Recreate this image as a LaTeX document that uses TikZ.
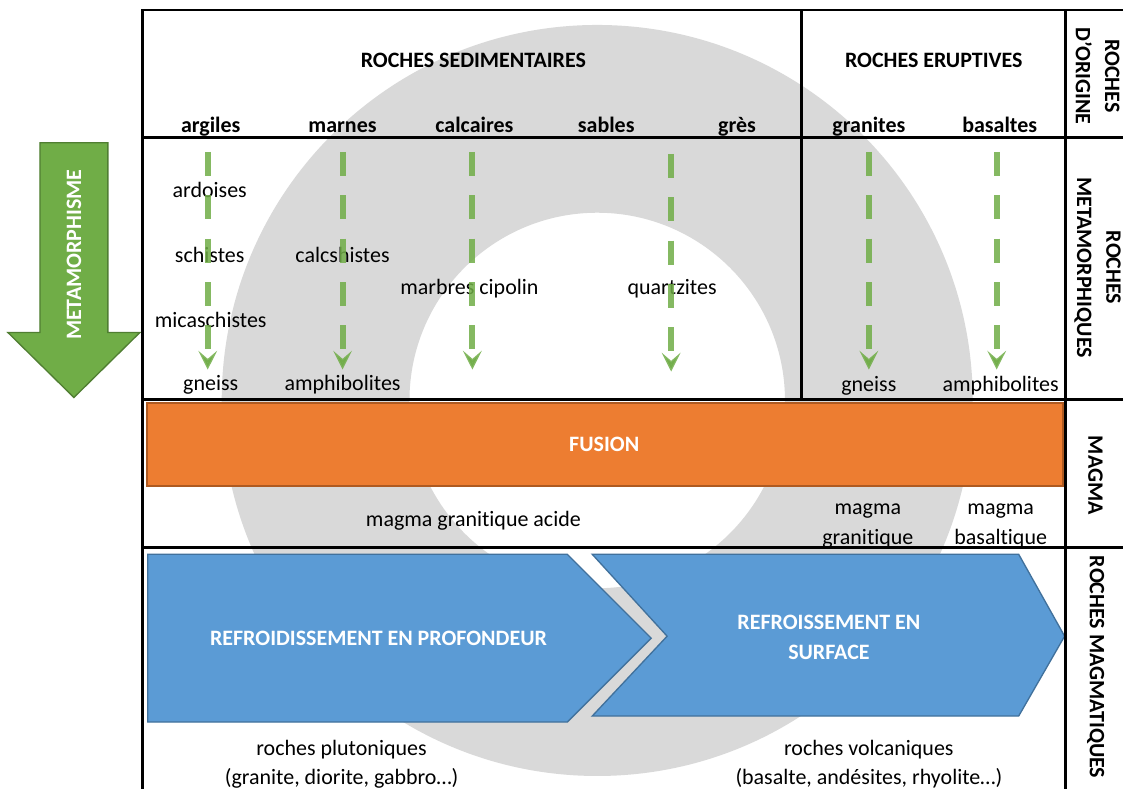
\documentclass[tikz,border=0pt]{standalone}
\usepackage{fontspec}
\setmainfont{Carlito}[Ligatures=NoCommon]
\usepackage{xcolor}
\usetikzlibrary{arrows.meta,positioning,calc}
\definecolor{ringgray}{HTML}{D9D9D9}
\definecolor{metagreen}{HTML}{70AD47}
\definecolor{metaedge}{HTML}{507E32}
\definecolor{fusionorange}{HTML}{ED7D31}
\definecolor{fusionedge}{HTML}{AE5A21}
\definecolor{coolblue}{HTML}{5B9BD5}
\definecolor{cooledge}{HTML}{41719C}
\newcommand{\txt}{\fontsize{16.5}{22}\selectfont}

\begin{document}
\begin{tikzpicture}[x=0.75pt,y=-0.75pt,
    every node/.style={font=\txt,inner sep=0pt,anchor=base,align=center},
    head/.style={font=\txt\bfseries},
    white head/.style={head,text=white},
    side/.style={head,rotate=-90,anchor=center},
    gridline/.style={line width=2.2pt},
    metaarrow/.style={draw=metagreen,line width=4.5pt,opacity=.85,dash pattern=on 18pt off 14.6pt,
      -{Stealth[length=14pt,width=14pt,inset=6pt,fill=metagreen]}}]
    \fill[white] (0,0) rectangle (1124,790);
    \fill[ringgray,even odd rule] (598,401) circle[radius=376] (598,401) circle[radius=188];
    \draw[fill=fusionorange,draw=fusionedge,line width=1.5pt] (147,404) rectangle (1064,487);
    \draw[fill=coolblue,draw=cooledge,line width=1pt] (148,555) -- (568,555) -- (652,639) -- (568,723) -- (148,723) -- cycle;
    \draw[fill=coolblue,draw=cooledge,line width=1pt] (593,555) -- (1020,555) -- (1066,637) -- (1020,717) -- (593,717) -- (668,637) -- cycle;
    \draw[fill=metagreen,draw=metaedge,line width=1pt] (40,143) -- (108,143) -- (108,333) -- (140,333) -- (74,398) -- (8,333) -- (40,333) -- cycle;
    \draw[gridline] (143,790) -- (143,10) -- (1124,10);
    \draw[gridline] (143,138) -- (1124,138);
    \draw[gridline] (143,400) -- (1124,400);
    \draw[gridline] (143,548) -- (1124,548);
    \draw[gridline] (803,10) -- (803,400);
    \draw[gridline] (1067,10) -- (1067,790);

    \node[head] (sedi) at (474,68) {ROCHES SEDIMENTAIRES};
    \node[head] (erup) at (935,68) {ROCHES ERUPTIVES};
    \foreach \nm/\x/\lbl in {argiles/211/argiles,marnes/343/marnes,calcaires/475/calcaires,sables/607/sables,gres/738/grès,granites/870/granites,basaltes/1001/basaltes}
      \node[head] (\nm) at (\x,133) {\lbl};

    \node (ardoises) at (210,198) {ardoises};
    \node (schistes) at (210,263) {schistes};
    \node (micasch) at (211,328) {micaschistes};
    \node (gneissA) at (211,391) {gneiss};
    \node (calcsch) at (343,263) {calcshistes};
    \node (amphiA) at (343,391) {amphibolites};
    \node (marbres) at (470,295) {marbres cipolin};
    \node (quartz) at (673,295) {quartzites};
    \node (gneissB) at (870,392) {gneiss};
    \node (amphiB) at (1002,392) {amphibolites};

    \node[white head] (fusion) at (605,452) {FUSION};
    \node (acide) at (474,527) {magma granitique acide};
    \node (mgran) at (869,545) {magma\\granitique};
    \node (mbas) at (1002,545) {magma\\basaltique};

    \node[white head] (profond) at (379,646) {REFROIDISSEMENT EN PROFONDEUR};
    \node[white head] (surface) at (830,660) {REFROISSEMENT EN\\SURFACE};
    \node (pluto) at (342,786) {roches plutoniques\\(granite, diorite, gabbro…)};
    \node (volca) at (870,786) {roches volcaniques\\(basalte, andésites, rhyolite…)};

    \node[white head,rotate=90,anchor=center] (meta) at (74,255) {METAMORPHISME};
    \node[side] (origine) at (1099,76) {ROCHES\\D'ORIGINE};
    \node[side] (metamor) at (1099,268) {ROCHES\\METAMORPHIQUES};
    \node[side] (magma) at (1097,476) {MAGMA};
    \node[side] (magmat) at (1097,668) {ROCHES MAGMATIQUES};

    \foreach \nm/\x/\ya/\yb in {a/208/152/370,b/343/152/370,c/473/152/370,d/672/154/372,e/870/152/370,f/998/152/370}{
      \coordinate (top\nm) at (\x,\ya);
      \coordinate (bot\nm) at (\x,\yb);
      \draw[metaarrow] (top\nm) -- (bot\nm);
    }
\end{tikzpicture}
\end{document}
